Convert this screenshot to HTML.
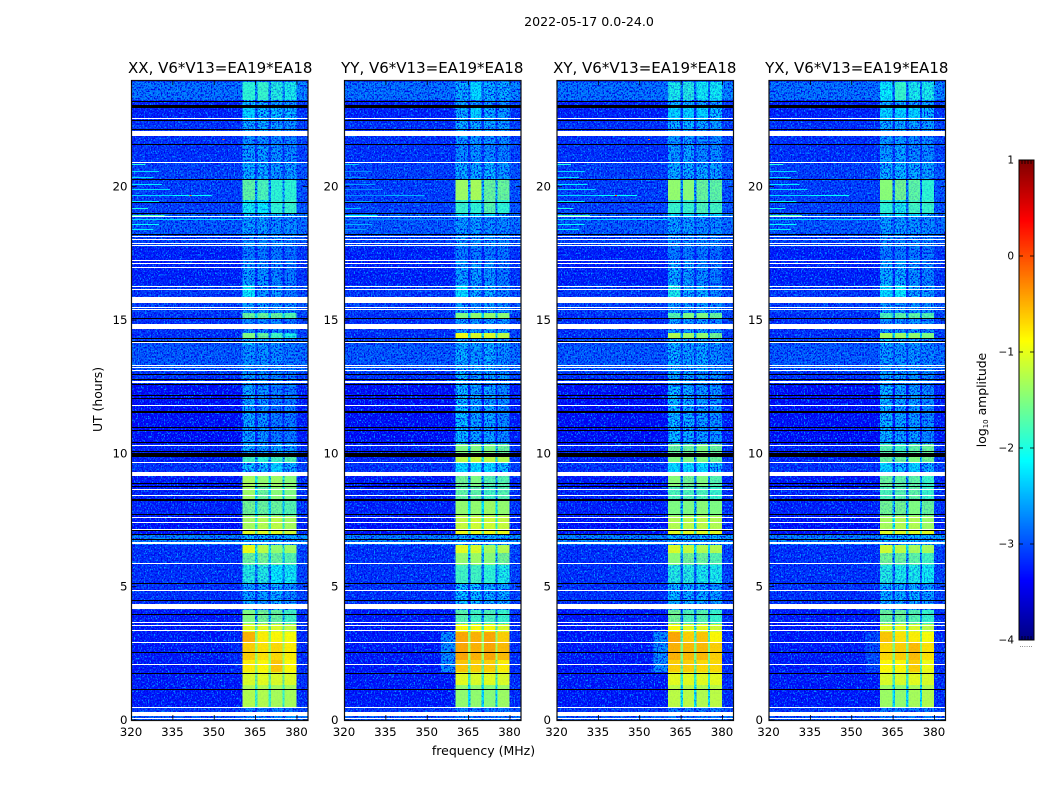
<!DOCTYPE html>
<html lang="en">
<head>
<meta charset="utf-8">
<title>2022-05-17 0.0-24.0</title>
<style>
html,body{margin:0;padding:0;background:#fff;width:1050px;height:800px;overflow:hidden}
svg{display:block}
text{font-family:"DejaVu Sans","Liberation Sans",sans-serif;fill:#000}
</style>
</head>
<body>
<svg id="figure" xmlns="http://www.w3.org/2000/svg" width="1050" height="800" viewBox="0 0 1050 800">
  <defs>
    <filter id="speckleLight" x="0" y="0" width="100%" height="100%" color-interpolation-filters="sRGB">
      <feTurbulence type="fractalNoise" baseFrequency="0.7 0.55" numOctaves="2" seed="4"/>
      <feColorMatrix type="matrix" values="0 0 0 0 0  0 0 0 0 .62  0 0 0 0 1  4.5 0 0 0 -2.2"/>
    </filter>
    <filter id="speckleDark" x="0" y="0" width="100%" height="100%" color-interpolation-filters="sRGB">
      <feTurbulence type="fractalNoise" baseFrequency="0.7 0.55" numOctaves="2" seed="11"/>
      <feColorMatrix type="matrix" values="0 0 0 0 0  0 0 0 0 0  0 0 0 0 .9  4.5 0 0 0 -2.1"/>
    </filter>
  </defs>
  <text x="589" y="26" text-anchor="middle" font-size="12.6">2022-05-17 0.0-24.0</text>
  <text transform="translate(102 399.5) rotate(-90)" text-anchor="middle" font-size="12.4">UT (hours)</text>
  <text x="483.5" y="755" text-anchor="middle" font-size="12.5">frequency (MHz)</text>
  <text transform="translate(986 400) rotate(-90)" text-anchor="middle" font-size="12.4">log<tspan font-size="7" dy="2">10</tspan><tspan dy="-2"> amplitude</tspan></text>
  <text x="1026" y="647" text-anchor="middle" font-size="7" style="fill:#555">......</text>
  <g id="panels"></g>
  <g id="colorbar"></g>
</svg>
<script>
var panelTitles = ["XX, V6*V13=EA19*EA18", "YY, V6*V13=EA19*EA18", "XY, V6*V13=EA19*EA18", "YX, V6*V13=EA19*EA18"];
var freqTicks = [320, 335, 350, 365, 380];
var timeTicks = [0, 5, 10, 15, 20];
var colorbarTicks = [-4, -3, -2, -1, 0, 1];
var colorbarTickLabels = ["\u22124", "\u22123", "\u22122", "\u22121", "0", "1"];

// frequency columns (MHz) and which band each belongs to: -1 background, -2 shoulder, 9 rim, 8 gap, 0..3 bands
var channelEdges = [320, 355, 360.3, 364.8, 365.6, 369.7, 370.5, 374.7, 375.5, 379.8, 384];
var channelKinds = [-1, -2, 0, 8, 1, 8, 2, 8, 3, 9];

// time rows (UT hours): start of each row
var rowStarts = [0,.30,.49,1.31,1.80,2.25,2.89,3.30,3.60,4.12,4.50,5.14,5.81,6.26,6.56,6.94,7.16,7.65,8.25,8.77,9.15,9.67,9.94,10.35,12.56,13.05,14.06,14.32,14.51,15.04,15.26,15.86,16.31,17.25,17.74,18.19,18.86,19.01,19.50,20.25,20.92,21.56,21.90,22.50,22.95,23.25,23.92];
var backgroundLevels = [-2.9,-3.1,-3.3,-3.3,-3.3,-3.3,-3.3,-3.3,-3.3,-3.15,-3.15,-3.15,-3.15,-3.15,-2.65,-3.35,-3.35,-3.25,-3.25,-3.3,-3.15,-3.25,-3.25,-3.4,-3.15,-2.9,-3,-3.15,-3.15,-3.15,-3.05,-3.1,-3.25,-3.25,-3.05,-2.9,-2.85,-3.05,-3.05,-3.05,-3.15,-3.15,-3.15,-3.25,-3.25,-2.75,-3.15];

// log10 amplitude of the four bands in each time row
var levelsXX = [[-2.6,-2.6,-2.6,-2.6],[-2.7,-2.7,-2.7,-2.8],[-1.25,-1.25,-1.3,-1.3],[-1.05,-1,-1.05,-1.05],[-.8,-.85,-.6,-.85],[-.65,-.75,-.7,-.8],[-.5,-.8,-.85,-.9],[-1,-1,-1.05,-1.15],[-1.5,-1.55,-1.6,-1.8],[-2.4,-2.5,-2.4,-2.5],[-2.5,-2.5,-2.4,-2.6],[-1.95,-1.95,-2.1,-2.05],[-1.6,-1.55,-1.6,-1.7],[-.95,-1.2,-1.4,-1.35],[-2.4,-2.4,-2.4,-2.45],[-1,-1,-1,-1.1],[-1.3,-1.25,-1.2,-1.3],[-1.55,-1.6,-1.6,-1.7],[-1.35,-1.6,-1.45,-1.5],[-1.3,-1.4,-1.35,-1.45],[-2.3,-2.3,-2.25,-2.4],[-1.8,-1.9,-1.8,-1.7],[-2.4,-2.5,-2.4,-2.5],[-2.45,-2.55,-2.7,-2.7],[-2.5,-2.6,-2.65,-2.7],[-2.55,-2.55,-2.6,-2.7],[-2.3,-2.4,-2.5,-2.6],[-1.5,-1.6,-1.8,-2],[-2.6,-2.6,-2.6,-2.7],[-1.6,-1.6,-1.6,-1.7],[-2.5,-2.5,-2.6,-2.6],[-2.1,-2.5,-2.5,-2.7],[-2.5,-2.55,-2.65,-2.7],[-2.7,-2.7,-2.7,-2.8],[-2.6,-2.6,-2.6,-2.7],[-2.5,-2.5,-2.6,-2.6],[-2.3,-2.3,-2.3,-2.4],[-2.05,-2.1,-1.9,-1.85],[-1.65,-1.75,-1.9,-1.9],[-2.4,-2.4,-2.5,-2.5],[-2.5,-2.5,-2.55,-2.6],[-2.55,-2.6,-2.6,-2.65],[-2.4,-2.4,-2.5,-2.55],[-2.25,-2.3,-2.3,-2.35],[-2.3,-2.4,-2.5,-2.5],[-1.9,-1.85,-1.95,-2],[-2.8,-2.8,-2.8,-2.8]];
var levelsYY = [[-2.7,-2.7,-2.7,-2.7],[-2.7,-2.7,-2.7,-2.7],[-1.4,-1.4,-1.45,-1.35],[-1,-1.05,-1,-1.05],[-.6,-.65,-.65,-.8],[-.45,-.5,-.45,-.55],[-.45,-.5,-.45,-.65],[-.9,-.9,-.9,-1.05],[-1.7,-1.8,-1.75,-1.85],[-2.3,-2.3,-2.4,-2.4],[-2.3,-2.3,-2.4,-2.4],[-1.8,-1.8,-1.9,-2],[-1.4,-1.35,-1.45,-1.55],[-1,-1.05,-1.3,-1.25],[-2.4,-2.4,-2.4,-2.4],[-.95,-.95,-.95,-.95],[-1.15,-1.1,-1.1,-1.15],[-1.4,-1.4,-1.35,-1.4],[-1.65,-1.65,-1.8,-1.7],[-1.55,-1.5,-1.7,-1.7],[-2.2,-2.2,-2.2,-2.3],[-1.2,-1.15,-1.2,-1.25],[-1.5,-1.5,-1.5,-1.6],[-2.3,-2.45,-2.45,-2.6],[-2.35,-2.5,-2.5,-2.5],[-2.4,-2.5,-2.4,-2.6],[-2.4,-2.45,-2.45,-2.5],[-.95,-1.05,-1.05,-1.2],[-2.5,-2.5,-2.5,-2.5],[-1.5,-1.4,-1.4,-1.45],[-2.5,-2.6,-2.5,-2.6],[-2.2,-2.4,-2.35,-2.6],[-2.5,-2.5,-2.55,-2.7],[-2.7,-2.7,-2.7,-2.75],[-2.5,-2.55,-2.55,-2.6],[-2.5,-2.5,-2.6,-2.6],[-2.2,-2.2,-2.2,-2.3],[-1.85,-1.9,-1.7,-1.9],[-1.35,-1.3,-1.6,-1.6],[-2.4,-2.4,-2.35,-2.5],[-2.6,-2.55,-2.6,-2.65],[-2.5,-2.5,-2.55,-2.6],[-2.4,-2.4,-2.45,-2.5],[-2.4,-2.25,-2.4,-2.5],[-2.5,-2.5,-2.6,-2.6],[-2.4,-2.2,-2.4,-2.4],[-2.8,-2.8,-2.8,-2.8]];
var levelsXY = [[-2.7,-2.7,-2.7,-2.7],[-2.7,-2.7,-2.7,-2.7],[-1.2,-1.2,-1.25,-1.2],[-1,-1,-1,-1],[-.65,-.65,-.7,-.7],[-.5,-.55,-.55,-.65],[-.45,-.65,-.6,-.85],[-.9,-1,-1,-1.1],[-1.55,-1.75,-1.7,-1.85],[-2.35,-2.4,-2.4,-2.45],[-2.3,-2.4,-2.4,-2.5],[-1.95,-1.95,-2,-2],[-1.45,-1.55,-1.6,-1.7],[-1.05,-1.15,-1.25,-1.25],[-2.4,-2.4,-2.4,-2.4],[-1,-1,-1,-1],[-1.25,-1.2,-1.2,-1.25],[-1.5,-1.5,-1.45,-1.5],[-1.75,-1.75,-1.75,-1.85],[-1.45,-1.55,-1.5,-1.7],[-2.2,-2.2,-2.2,-2.3],[-1.5,-1.5,-1.5,-1.6],[-1.6,-1.6,-1.5,-1.6],[-2.3,-2.4,-2.5,-2.55],[-2.4,-2.5,-2.5,-2.55],[-2.4,-2.5,-2.45,-2.6],[-2.3,-2.4,-2.4,-2.5],[-1.25,-1.35,-1.4,-1.55],[-2.5,-2.5,-2.5,-2.6],[-1.7,-1.5,-1.5,-1.6],[-2.5,-2.55,-2.5,-2.6],[-2,-2.4,-2.35,-2.6],[-2.4,-2.5,-2.6,-2.7],[-2.7,-2.7,-2.7,-2.8],[-2.55,-2.6,-2.6,-2.65],[-2.5,-2.5,-2.6,-2.6],[-2.2,-2.2,-2.2,-2.25],[-1.85,-1.85,-1.75,-1.8],[-1.4,-1.45,-1.6,-1.65],[-2.4,-2.4,-2.4,-2.45],[-2.5,-2.45,-2.6,-2.6],[-2.5,-2.5,-2.6,-2.6],[-2.35,-2.35,-2.45,-2.5],[-2.25,-2.25,-2.25,-2.3],[-2.4,-2.4,-2.5,-2.5],[-2,-1.95,-2.05,-2.05],[-2.8,-2.8,-2.8,-2.8]];
var levelsYX = [[-2.7,-2.7,-2.7,-2.7],[-2.7,-2.7,-2.7,-2.7],[-1.35,-1.4,-1.3,-1.25],[-1.05,-1.05,-1,-1.05],[-.85,-.85,-.65,-.95],[-.7,-.65,-.55,-.75],[-.6,-.75,-.8,-.9],[-1,-1,-1.05,-1.2],[-1.6,-1.6,-1.7,-1.85],[-2.4,-2.4,-2.4,-2.5],[-2.4,-2.4,-2.4,-2.5],[-1.95,-2,-2,-2.05],[-1.55,-1.6,-1.65,-1.8],[-1.1,-1.2,-1.3,-1.3],[-2.4,-2.4,-2.4,-2.4],[-1,-1,-1,-1],[-1.3,-1.25,-1.25,-1.35],[-1.55,-1.55,-1.5,-1.6],[-1.75,-1.7,-1.65,-1.85],[-1.6,-1.65,-1.65,-1.85],[-2.25,-2.3,-2.25,-2.4],[-1.6,-1.6,-1.5,-1.55],[-1.7,-1.8,-1.65,-1.6],[-2.35,-2.45,-2.5,-2.6],[-2.45,-2.5,-2.55,-2.65],[-2.5,-2.55,-2.55,-2.65],[-2.3,-2.4,-2.5,-2.55],[-1.3,-1.35,-1.4,-1.5],[-2.55,-2.55,-2.55,-2.6],[-1.75,-1.65,-1.65,-1.7],[-2.5,-2.5,-2.55,-2.6],[-2.2,-2.1,-2.4,-2.5],[-2.4,-2.4,-2.55,-2.65],[-2.7,-2.7,-2.7,-2.75],[-2.55,-2.6,-2.6,-2.65],[-2.5,-2.5,-2.55,-2.6],[-2.2,-2.2,-2.25,-2.3],[-1.9,-2,-1.8,-1.85],[-1.45,-1.55,-1.65,-1.9],[-2.4,-2.35,-2.4,-2.45],[-2.5,-2.45,-2.6,-2.6],[-2.5,-2.5,-2.6,-2.6],[-2.4,-2.4,-2.45,-2.5],[-2.25,-2.25,-2.25,-2.35],[-2.4,-2.4,-2.5,-2.5],[-2.1,-1.85,-2,-2],[-2.8,-2.8,-2.8,-2.8]];
var panelLevels = [levelsXX, levelsYY, levelsXY, levelsYX];
var gapDrops = [0.55, 0.75, 0.85, 0.75];
var shoulderLevels = [-3.2, -2.6, -2.6, -3];

// flagged intervals (UT hours): blank and zero-amplitude
var blankIntervals = [[22.10,21.90],[20.93,20.89],[18.89,18.85],[18.14,18.10],[18.02,17.98],[17.89,17.85],[17.80,17.76],[17.24,17.20],[17.13,17.09],[16.99,16.95],[16.27,16.23],[16.17,16.13],[15.85,15.62],[15.47,15.43],[15.42,15.38],[14.85,14.65],[14.16,14.12],[13.33,13.29],[13.24,13.20],[13.11,13.07],[12.72,12.63],[11.82,11.78],[10.31,10.27],[9.69,9.65],[9.31,9.15],[8.67,8.63],[8.45,8.41],[7.62,7.58],[7.43,7.39],[7.17,7.13],[6.67,6.63],[6.62,6.58],[5.90,5.86],[4.88,4.84],[4.35,4.16],[3.68,3.64],[3.58,3.54],[3.36,3.32],[2.93,2.89],[2.11,2.07],[0.50,0.46],[0.31,0.15],[0.08,0.04],[22.58,22.54]];
var zeroIntervals = [[23.20,23.16],[23.06,22.95],[22.49,22.45],[22.17,22.13],[21.61,21.57],[20.27,20.23],[19.43,19.39],[19.02,18.98],[18.24,18.20],[15.07,15.03],[14.32,14.28],[14.23,14.19],[12.99,12.95],[12.77,12.73],[12.60,12.55],[12.18,12.14],[12.09,12.05],[11.60,11.54],[10.98,10.94],[10.86,10.82],[10.43,10.39],[10.07,10.03],[10.01,9.86],[8.87,8.83],[8.77,8.73],[8.28,8.22],[7.71,7.67],[7.12,7.08],[6.96,6.92],[6.80,6.76],[5.15,5.11],[4.51,4.47],[3.98,3.94],[3.39,3.35],[2.56,2.52],[1.77,1.73],[1.16,1.12]];

// narrow-band interference: [UT hours, start MHz, end MHz, log10 amplitude]
var interference = [[20.85,320,325,-2.0],[20.6,320,330,-2.3],[20.35,320,328,-2.3],[20.1,320,331,-2.2],[19.9,320,334,-2.3],[19.68,320,345,-2.3],[19.68,335,349,-2.1],[19.45,320,330,-2.2],[19.2,320,326,-2.0],[18.95,320,332,-1.8],[18.78,320,360,-2.3],[18.6,320,330,-2.1],[18.4,320,328,-2.2]];
var hotSpots = [[19.68,341,-0.1],[21.8,353,-0.2]];

var svgNS = "http://www.w3.org/2000/svg";
var panelLefts = [131.5, 344.5, 557, 769];
var panelWidth = 176.5;
var plotTop = 80, plotBottom = 720;
var freqMin = 320, freqMax = 384, utMin = 0, utMax = 24;

function xScale(panel, freq) {
  return panelLefts[panel] + (freq - freqMin) / (freqMax - freqMin) * panelWidth;
}
function yScale(ut) {
  return plotBottom - (ut - utMin) / (utMax - utMin) * (plotBottom - plotTop);
}
function clamp01(v) { return Math.max(0, Math.min(1, v)); }
function jet(level) {
  var v = clamp01((level + 4) / 5);
  var r = clamp01(Math.min(4 * v - 1.5, -4 * v + 4.5));
  var g = clamp01(Math.min(4 * v - 0.5, -4 * v + 3.5));
  var b = clamp01(Math.min(4 * v + 0.5, -4 * v + 2.5));
  return "rgb(" + Math.round(r * 255) + "," + Math.round(g * 255) + "," + Math.round(b * 255) + ")";
}
function make(tag, parent, attrs) {
  var el = document.createElementNS(svgNS, tag);
  for (var k in attrs) el.setAttribute(k, attrs[k]);
  parent.appendChild(el);
  return el;
}
function intervalTop(a) { return Math.round(yScale(Math.max(a[0], a[1]))); }
function intervalHeight(a) { return Math.max(1, Math.round(Math.abs(yScale(a[0]) - yScale(a[1])))); }
function cellLevel(p, r, kind, start, end) {
  var bg = backgroundLevels[r];
  var bands = panelLevels[p][r];
  if (kind === -1) return bg;
  if (kind === -2) return (start >= 1.8 && end <= 3.3) ? Math.max(bg, shoulderLevels[p]) : bg;
  if (kind === 9) return bg + 0.12;
  if (kind === 8) return Math.max(bg, Math.min.apply(null, bands) - gapDrops[p]);
  return bands[kind];
}

var panelsRoot = document.getElementById("panels");

panelTitles.forEach(function (title, p) {
  var g = make("g", panelsRoot, {});
  
  
  var left = xScale(p, freqMin), right = xScale(p, freqMax);
  var cells = make("g", g, { "shape-rendering": "crispEdges" });
  
  

  rowStarts.forEach(function (start, r) {
    var end = r + 1 < rowStarts.length ? rowStarts[r + 1] : utMax;
    channelKinds.forEach(function (kind, c) {
      var value = cellLevel(p, r, kind, start, end);
      var x0 = xScale(p, channelEdges[c]), x1 = xScale(p, channelEdges[c + 1]);
      var cell = make("rect", cells, { x: x0, y: yScale(end), width: x1 - x0, height: yScale(start) - yScale(end), fill: jet(value) });
      
      
    });
  });

  var noiseLight = make("rect", g, { x: left, y: plotTop, width: right - left, height: plotBottom - plotTop, fill: "#000", filter: "url(#speckleLight)" });
  
  
  var noiseDark = make("rect", g, { x: left, y: plotTop, width: right - left, height: plotBottom - plotTop, fill: "#000", filter: "url(#speckleDark)" });
  
  

  // strong-signal cells sit above the noise floor, so the speckle is washed out there
  var smooth = make("g", g, { "shape-rendering": "crispEdges" });
  
  
  rowStarts.forEach(function (start, r) {
    var end = r + 1 < rowStarts.length ? rowStarts[r + 1] : utMax;
    channelKinds.forEach(function (kind, c) {
      var value = cellLevel(p, r, kind, start, end);
      if (value < -2.25) return;
      var alpha = value >= -1.5 ? 0.95 : (value >= -1.9 ? 0.78 : 0.5);
      var x0 = xScale(p, channelEdges[c]), x1 = xScale(p, channelEdges[c + 1]);
      var cell = make("rect", smooth, { x: x0, y: yScale(end), width: x1 - x0, height: yScale(start) - yScale(end), fill: jet(value), "fill-opacity": alpha });
      
      
    });
  });

  interference.forEach(function (item) {
    var line = make("rect", g, { x: xScale(p, item[1]), y: Math.round(yScale(item[0])), width: xScale(p, item[2]) - xScale(p, item[1]), height: 1, fill: jet(item[3] - (p === 1 ? 0.4 : 0)), "shape-rendering": "crispEdges" });
    
    
  });
  if (p === 0 || p === 2) {
    hotSpots.forEach(function (item) {
      var spot = make("rect", g, { x: xScale(p, item[1]), y: Math.round(yScale(item[0])), width: 2, height: 1, fill: jet(item[2]), "shape-rendering": "crispEdges" });
      
      
    });
  }

  var flags = make("g", g, { "shape-rendering": "crispEdges" });
  
  
  zeroIntervals.forEach(function (a) {
    var band = make("rect", flags, { x: left, y: intervalTop(a), width: right - left, height: intervalHeight(a), fill: "#000" });
    
    
  });
  blankIntervals.forEach(function (a) {
    var band = make("rect", flags, { x: left, y: intervalTop(a), width: right - left, height: intervalHeight(a), fill: "#fff" });
    
    
  });

  var frame = make("rect", g, { x: left, y: plotTop + 0.5, width: right - left, height: plotBottom - plotTop, fill: "none", stroke: "#111", "stroke-width": 1.2 });
  
  

  freqTicks.forEach(function (f) {
    var x = xScale(p, f);
    var tickB = make("line", g, { x1: x, x2: x, y1: plotBottom, y2: plotBottom - 5, stroke: "#000", "stroke-width": 0.8 });
    
    
    var tickT = make("line", g, { x1: x, x2: x, y1: plotTop, y2: plotTop + 5, stroke: "#000", "stroke-width": 0.8 });
    
    
    var label = make("text", g, { x: x - 0.5, y: 736, "text-anchor": "middle", "font-size": 11.8 });
    
    
    label.textContent = f;
  });
  timeTicks.forEach(function (t) {
    var y = yScale(t);
    var tickL = make("line", g, { x1: left, x2: left + 5, y1: y, y2: y, stroke: "#000", "stroke-width": 0.8 });
    
    
    var tickR = make("line", g, { x1: right, x2: right - 5, y1: y, y2: y, stroke: "#000", "stroke-width": 0.8 });
    
    
    var label = make("text", g, { x: left - (p === 0 ? 4 : 6), y: y + 4, "text-anchor": "end", "font-size": 11.8 });
    
    
    label.textContent = t;
  });

  var heading = make("text", g, { x: (left + right) / 2 + (p === 0 ? 0.5 : -0.5), y: 73, "text-anchor": "middle", "font-size": 15 });
  
  
  heading.textContent = title;
});

// colorbar
var cbRoot = document.getElementById("colorbar");
var cbLeft = 1019, cbRight = 1034, cbTop = 160, cbBottom = 640;
function cbScale(level) {
  return cbBottom - (level + 4) / 5 * (cbBottom - cbTop);
}
var colorSteps = make("g", cbRoot, { "shape-rendering": "crispEdges" });


for (var lv = -4; lv < 1; lv += 0.0125) {
  var seg = make("rect", colorSteps, { x: cbLeft, y: cbScale(lv + 0.0125), width: cbRight - cbLeft, height: Math.abs(cbScale(lv) - cbScale(lv + 0.0125)) + 0.6, fill: jet(lv + 0.00625) });
  
  
}
var cbFrame = make("rect", cbRoot, { x: cbLeft, y: cbTop, width: cbRight - cbLeft, height: cbBottom - cbTop, fill: "none", stroke: "#000", "stroke-width": 1 });


colorbarTicks.forEach(function (level, i) {
  var y = cbScale(level);
  var t1 = make("line", cbRoot, { x1: cbLeft, x2: cbLeft + 4, y1: y, y2: y, stroke: "#000", "stroke-width": 0.8 });
  
  
  var t2 = make("line", cbRoot, { x1: cbRight, x2: cbRight - 4, y1: y, y2: y, stroke: "#000", "stroke-width": 0.8 });
  
  
  var lab = make("text", cbRoot, { x: 1014, y: y + 3.5, "text-anchor": "end", "font-size": 10.5 });
  
  
  lab.textContent = colorbarTickLabels[i];
});
[1022, 1025, 1028, 1031].forEach(function (x) {
  var a = make("line", cbRoot, { x1: x, x2: x, y1: cbTop, y2: cbTop + 4, stroke: "#000", "stroke-width": 0.8 });
  
  
  var b = make("line", cbRoot, { x1: x, x2: x, y1: cbBottom, y2: cbBottom - 4, stroke: "#000", "stroke-width": 0.8 });
  
  
});
</script>
</body>
</html>
